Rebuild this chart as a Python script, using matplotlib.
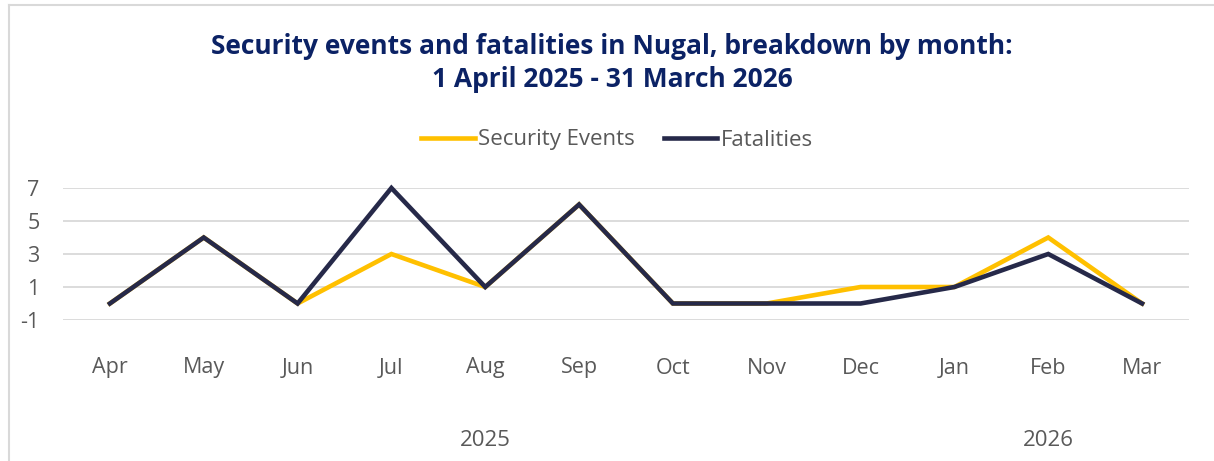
import matplotlib.pyplot as plt

# monthly counts for Nugal
months = ['Apr', 'May', 'Jun', 'Jul', 'Aug', 'Sep', 'Oct', 'Nov', 'Dec', 'Jan', 'Feb', 'Mar']
security_events = [0, 4, 0, 3, 1, 6, 0, 0, 1, 1, 4, 0]
fatalities = [0, 4, 0, 7, 1, 6, 0, 0, 0, 1, 3, 0]
years = ['2025', '2026']
year_spans = [(0, 8), (9, 11)]
y_ticks = [-1, 1, 3, 5, 7]

plt.rcParams['font.family'] = ['Open Sans', 'DejaVu Sans']
plt.rcParams['axes.unicode_minus'] = False

fig = plt.figure(figsize=(12.14, 4.61), dpi=100)
ax = fig.add_axes([63 / 1214, 1 - 320 / 461, 1126 / 1214, 132 / 461])

x = list(range(len(months)))
ax.plot(x, security_events, color='#FFC000', lw=3.3, solid_joinstyle='miter',
        label='Security Events', clip_on=False, zorder=3)
ax.plot(x, fatalities, color='#262949', lw=3.3, solid_joinstyle='miter',
        label='Fatalities', clip_on=False, zorder=4)

ax.set_xlim(-0.5, len(months) - 0.5)
ax.set_ylim(-1, 7)
ax.set_yticks(y_ticks)
ax.set_xticks(x)
ax.set_xticklabels(months)
for yv in y_ticks:
    ax.axhline(yv, color='#d9d9d9', lw=1.3, zorder=1)

ax.tick_params(axis='both', length=0, labelsize=15.5, labelcolor='#595959')
ax.tick_params(axis='x', pad=27)
ax.tick_params(axis='y', pad=17)
for s in ax.spines.values():
    s.set_visible(False)

# year labels under each group of months
for yr, (a, b) in zip(years, year_spans):
    fig.text((63 + (a + b + 1) / 2 * 1126 / 12) / 1214, 1 - 440 / 461, yr,
             ha='center', va='center', fontsize=16, color='#595959')

fig.text(612 / 1214, 1 - 46 / 461, 'Security events and fatalities in Nugal, breakdown by month:',
         ha='center', va='center', fontsize=19, fontweight='bold', color='#0b2265')
fig.text(612 / 1214, 1 - 79 / 461, '1 April 2025 - 31 March 2026',
         ha='center', va='center', fontsize=19, fontweight='bold', color='#0b2265')

fig.legend(loc='center', bbox_to_anchor=(617 / 1214, 1 - 140 / 461), ncol=2, frameon=False,
           fontsize=16, labelcolor='#595959', handlelength=2.4, handletextpad=0.15,
           columnspacing=1.3)

# light frame on the left and top
fig.add_artist(plt.Line2D([9 / 1214, 9 / 1214], [0, 1 - 5 / 461], transform=fig.transFigure,
                          color='#d9d9d9', lw=1.5))
fig.add_artist(plt.Line2D([9 / 1214, 1], [1 - 5 / 461, 1 - 5 / 461], transform=fig.transFigure,
                          color='#d9d9d9', lw=1.5))

fig.savefig('out.png', dpi=100)
